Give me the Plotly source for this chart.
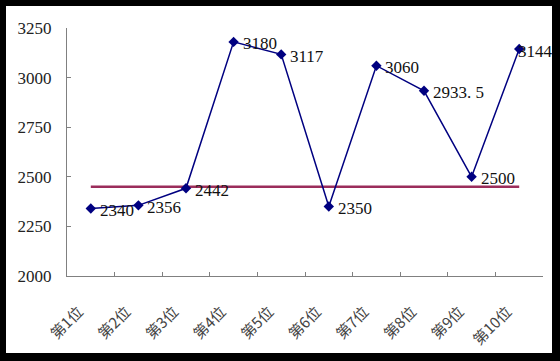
import plotly.graph_objects as go

categories = ["第1位", "第2位", "第3位", "第4位", "第5位", "第6位", "第7位", "第8位", "第9位", "第10位"]
prices = [2340, 2356, 2442, 3180, 3117, 2350, 3060, 2933.5, 2500, 3144]
price_labels = ["2340", "2356", "2442", "3180", "3117", "2350", "3060", "2933. 5", "2500", "3144"]
reference = [2450] * 10
y_ticks = [2000, 2250, 2500, 2750, 3000, 3250]

W, H = 560, 361
L, R, T, B = 67, 543, 28, 276

fig = go.Figure()
fig.add_trace(go.Scatter(
    x=categories, y=reference, mode="lines",
    line=dict(color="#9B2D5B", width=2.5), hoverinfo="skip", showlegend=False))
fig.add_trace(go.Scatter(
    x=categories, y=prices, mode="lines+markers",
    line=dict(color="#000080", width=1.5),
    marker=dict(symbol="diamond", size=8, color="#000080"),
    showlegend=False))

for i, (c, v, t) in enumerate(zip(categories, prices, price_labels)):
    last = i == len(categories) - 1
    fig.add_annotation(x=c, y=v, text=t, showarrow=False,
                       xanchor="left", yanchor="middle",
                       xshift=-3 if last else 7, yshift=-2,
                       font=dict(family="Liberation Serif", size=17, color="#111111"))

def px_to_paper_x(px):
    return (px - L) / (R - L)

def px_to_paper_y(py):
    return (B - py) / (B - T)

fig.add_shape(type="rect", xref="paper", yref="paper",
              x0=px_to_paper_x(6), x1=px_to_paper_x(552),
              y0=px_to_paper_y(353), y1=px_to_paper_y(6),
              fillcolor="white", line=dict(width=0), layer="below")

fig.update_layout(
    width=W, height=H,
    margin=dict(l=L, r=W - R, t=T, b=H - B, pad=0, autoexpand=False),
    paper_bgcolor="black", plot_bgcolor="white",
    font=dict(family="Liberation Serif, Noto Sans CJK SC", size=16, color="#222222"),
)
fig.update_xaxes(
    type="category", tickangle=-45, tickson="boundaries",
    ticks="inside", ticklen=4, tickcolor="#808080",
    showline=True, linecolor="#808080", linewidth=1.2,
    showgrid=False, zeroline=False, automargin=False,
    ticklabelstandoff=20, ticklabelshift=-12,
    tickfont=dict(family="Noto Sans CJK SC", size=15, color="#444444"),
    range=[-0.5, 9.5],
)
fig.update_yaxes(
    range=[2000, 3250], tickvals=y_ticks, ticktext=[str(v) for v in y_ticks],
    ticks="inside", ticklen=4, tickcolor="#808080",
    showline=True, linecolor="#808080", linewidth=1.2,
    showgrid=False, zeroline=False, ticklabelstandoff=11, automargin=False,
    tickfont=dict(family="Liberation Serif", size=17, color="#222222"),
)

fig.write_html("out.html", config={"displayModeBar": False},
               post_script="document.body.style.margin='0';document.body.style.padding='0';")
